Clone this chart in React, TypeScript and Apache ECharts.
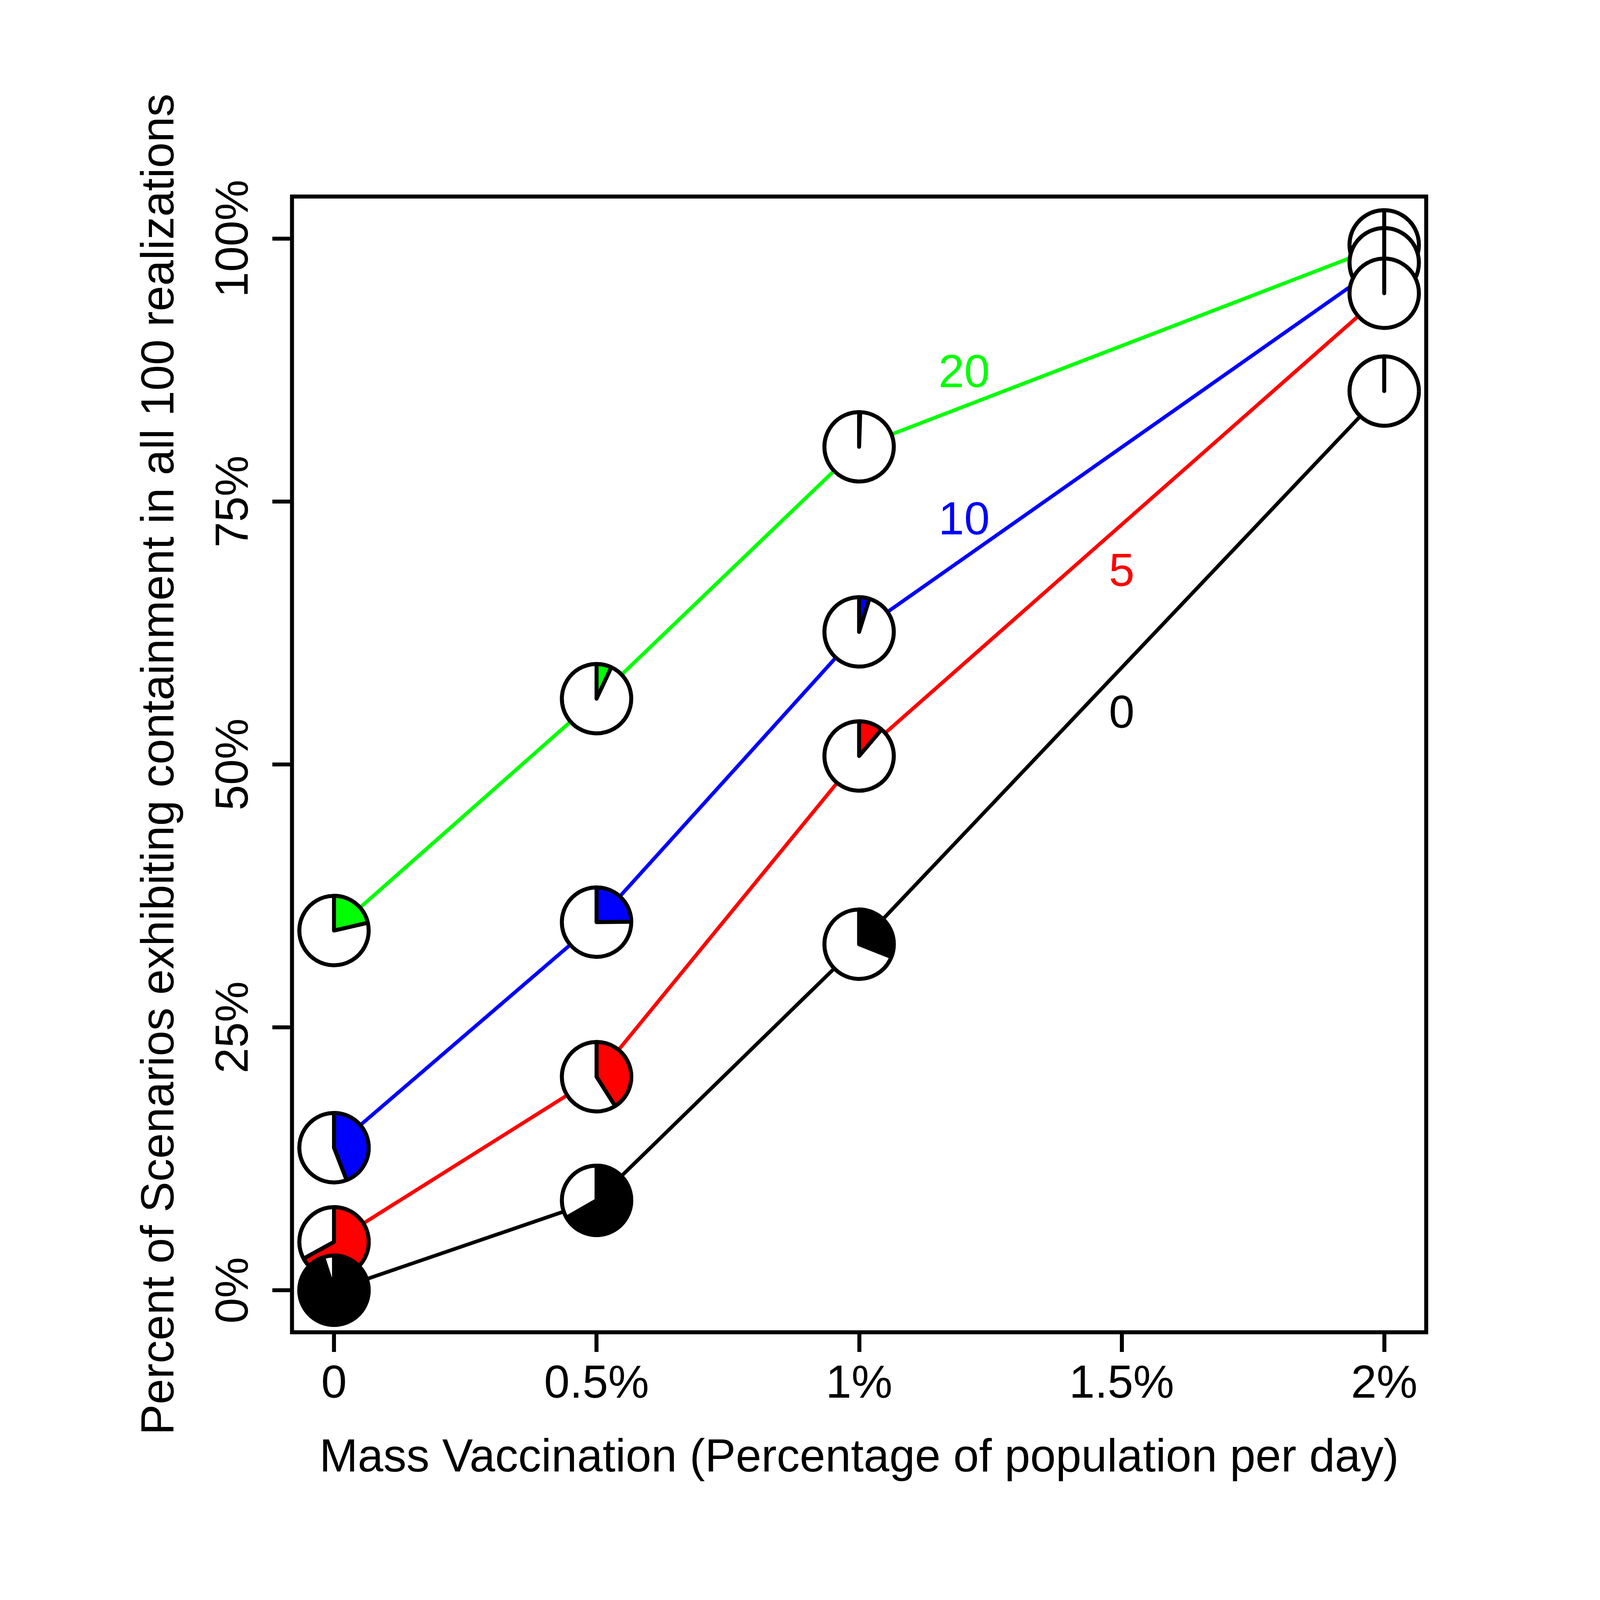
import React, { useEffect, useRef } from 'react';
import * as echarts from 'echarts';

// ---- data ----
const xValues = [0, 0.5, 1, 2];
const groupNames = ['20', '10', '5', '0'];
const groupColors = ['#00ff00', '#0000ff', '#ff0000', '#000000'];
const values20 = [34.2, 56.25, 80.2, 99.4];
const values10 = [13.55, 35.0, 62.6, 97.7];
const values5 = [4.6, 20.3, 50.8, 94.8];
const values0 = [0, 8.55, 32.9, 85.5];
const pie20 = [0.214, 0.07, 0.005, 0];
const pie10 = [0.441, 0.248, 0.048, 0];
const pie5 = [0.67, 0.41, 0.112, 0];
const pie0 = [0.95, 0.667, 0.31, 0];
const labelX = [1.2, 1.2, 1.5, 1.5];
const labelY = [87.4, 73.4, 68.5, 55.0];
const xTickValues = [0, 0.5, 1, 1.5, 2];
const xTickLabels = ['0', '0.5%', '1%', '1.5%', '2%'];
const yTickValues = [0, 25, 50, 75, 100];
const yTickLabels = ['0%', '25%', '50%', '75%', '100%'];
const xTitle = 'Mass Vaccination (Percentage of population per day)';
const yTitle = 'Percent of Scenarios exhibiting containment in all 100 realizations';

const FONT = '"Liberation Sans", Arial, Helvetica, sans-serif';
const REF_W = 5211;
const REF_H = 5076;

export default function App() {
  const ref = useRef<HTMLDivElement>(null);
  const W = typeof window !== 'undefined' ? window.innerWidth : REF_W;
  const H = typeof window !== 'undefined' ? window.innerHeight : REF_H;
  const s = Math.min(W / REF_W, H / REF_H);
  const cw = Math.round(REF_W * s);
  const ch = Math.round(REF_H * s);

  useEffect(() => {
    if (!ref.current) return;
    const p = (v: number) => v * s;
    const chart = echarts.init(ref.current, null, { renderer: 'svg' });
    const allValues = [values20, values10, values5, values0];
    const allPies = [pie20, pie10, pie5, pie0];

    const lineSeries = allValues.map((vals, g) => ({
      type: 'line',
      name: groupNames[g],
      data: xValues.map((x, i) => [x, vals[i]]),
      symbol: 'none',
      lineStyle: { color: groupColors[g], width: p(12) },
      z: 2,
      silent: true,
    }));

    const pieData: number[][] = [];
    allValues.forEach((vals, g) => {
      xValues.forEach((x, i) => pieData.push([x, vals[i], allPies[g][i], g]));
    });

    const labelData = labelX.map((x, g) => [x, labelY[g], g]);

    const fmt = (vals: number[], labels: string[]) => (v: number) => {
      const i = vals.findIndex((t) => Math.abs(t - v) < 1e-9);
      return i >= 0 ? labels[i] : '';
    };

    const fs = p(150);

    const option: any = {
      animation: false,
      backgroundColor: '#ffffff',
      textStyle: { fontFamily: FONT },
      grid: {
        left: p(951),
        right: p(566),
        top: p(640),
        bottom: p(737),
        containLabel: false,
        show: true,
        borderColor: '#000',
        borderWidth: p(13),
        backgroundColor: 'transparent',
      },
      xAxis: {
        type: 'value',
        min: -0.08,
        max: 2.08,
        splitLine: { show: false },
        axisLine: { show: false, onZero: false },
        axisTick: {
          show: true,
          inside: false,
          length: p(64),
          lineStyle: { color: '#000', width: p(13) },
          customValues: xTickValues,
        },
        axisLabel: {
          show: true,
          customValues: xTickValues,
          formatter: fmt(xTickValues, xTickLabels),
          color: '#000',
          fontSize: fs,
          lineHeight: fs,
          fontFamily: FONT,
          margin: p(86),
        },
        name: xTitle,
        nameLocation: 'middle',
        nameGap: p(326),
        nameTextStyle: { color: '#000', fontSize: fs, lineHeight: fs, fontFamily: FONT },
      },
      yAxis: {
        type: 'value',
        min: -4,
        max: 104,
        splitLine: { show: false },
        axisLine: { show: false, onZero: false },
        axisTick: {
          show: true,
          inside: false,
          length: p(64),
          lineStyle: { color: '#000', width: p(13) },
          customValues: yTickValues,
        },
        axisLabel: {
          show: true,
          customValues: yTickValues,
          formatter: fmt(yTickValues, yTickLabels),
          rotate: 90,
          color: '#000',
          fontSize: fs,
          lineHeight: fs,
          fontFamily: FONT,
          margin: p(121),
        },
        name: yTitle,
        nameLocation: 'middle',
        nameGap: p(363),
        nameTextStyle: { color: '#000', fontSize: fs, lineHeight: fs, fontFamily: FONT },
      },
      series: [
        ...lineSeries,
        {
          type: 'custom',
          name: 'pies',
          z: 3,
          silent: true,
          data: pieData,
          encode: { x: 0, y: 1 },
          renderItem: (params: any, api: any) => {
            const c = api.coord([api.value(0), api.value(1)]);
            const frac = api.value(2);
            const g = api.value(3);
            const R = p(113);
            const lw = p(13);
            const start = -Math.PI / 2;
            const end = start + frac * 2 * Math.PI;
            const children: any[] = [
              {
                type: 'circle',
                shape: { cx: c[0], cy: c[1], r: R },
                style: { fill: '#fff', stroke: '#000', lineWidth: lw },
              },
            ];
            if (frac > 0) {
              children.push({
                type: 'sector',
                shape: { cx: c[0], cy: c[1], r: R, r0: 0, startAngle: start, endAngle: end, clockwise: true },
                style: { fill: groupColors[g], stroke: '#000', lineWidth: lw, lineJoin: 'round' },
              });
            } else {
              children.push({
                type: 'line',
                shape: { x1: c[0], y1: c[1], x2: c[0], y2: c[1] - R },
                style: { stroke: '#000', lineWidth: lw, lineCap: 'round' },
              });
            }
            return { type: 'group', children };
          },
        },
        {
          type: 'custom',
          name: 'labels',
          z: 4,
          silent: true,
          data: labelData,
          encode: { x: 0, y: 1 },
          renderItem: (params: any, api: any) => {
            const c = api.coord([api.value(0), api.value(1)]);
            const g = api.value(2);
            return {
              type: 'text',
              x: c[0],
              y: c[1],
              style: {
                text: groupNames[g],
                fill: groupColors[g],
                fontSize: fs,
                fontFamily: FONT,
                align: 'center',
                verticalAlign: 'middle',
              },
            };
          },
        },
      ],
    };
    chart.setOption(option);
    return () => chart.dispose();
  }, []);
  return (
    <div
      ref={ref}
      style={{ position: 'absolute', left: 0, top: 0, width: cw, height: ch, background: '#fff' }}
    />
  );
}
